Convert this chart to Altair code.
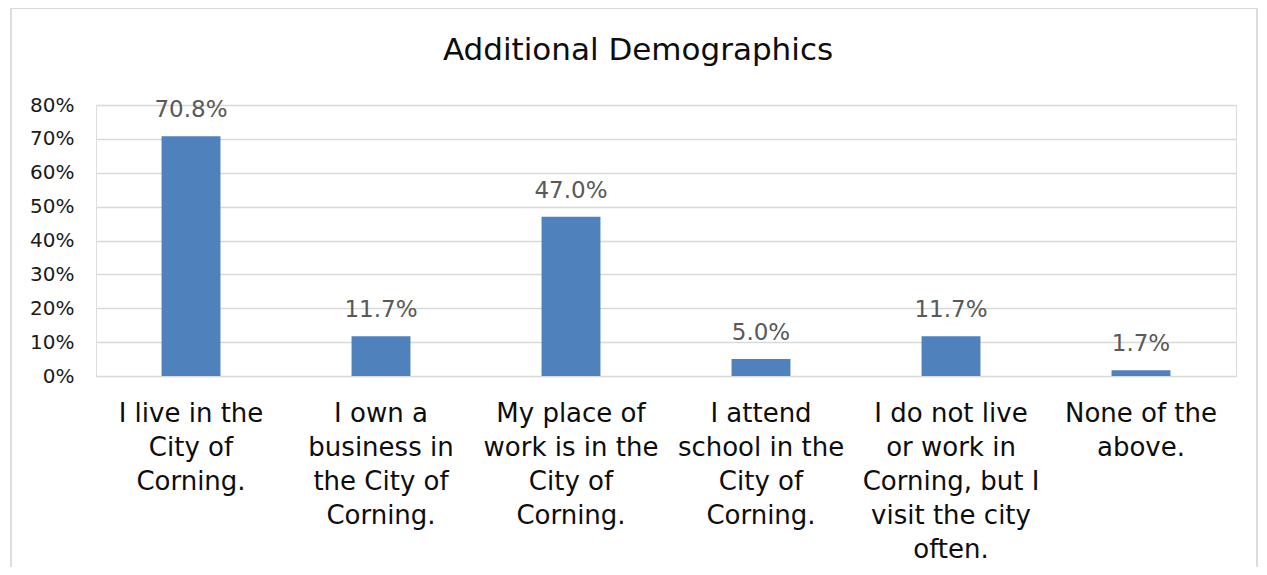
import altair as alt
import pandas as pd

categories = [
    "I live in the\nCity of\nCorning.",
    "I own a\nbusiness in\nthe City of\nCorning.",
    "My place of\nwork is in the\nCity of\nCorning.",
    "I attend\nschool in the\nCity of\nCorning.",
    "I do not live\nor work in\nCorning, but I\nvisit the city\noften.",
    "None of the\nabove.",
]
values = [0.708, 0.117, 0.470, 0.050, 0.117, 0.017]
y_ticks = [0, 0.1, 0.2, 0.3, 0.4, 0.5, 0.6, 0.7, 0.8]

df = pd.DataFrame({"cat": categories, "val": values})
FONT = "DejaVu Sans"

x_enc = alt.X(
    "cat:N",
    sort=categories,
    scale=alt.Scale(paddingInner=0.69, paddingOuter=0.345),
    axis=alt.Axis(
        title=None,
        labelAngle=0,
        labelExpr="split(datum.label, '\\n')",
        labelFontSize=26,
        labelLineHeight=34,
        labelColor="#0D0D0D",
        labelFont=FONT,
        labelPadding=24,
        labelBaseline="top",
        labelOverlap=False,
        labelLimit=300,
        ticks=False,
        domain=False,
    ),
)
y_enc = alt.Y(
    "val:Q",
    scale=alt.Scale(domain=[0, 0.8], nice=False),
    axis=alt.Axis(
        title=None,
        values=y_ticks,
        format=".0%",
        labelFontSize=20,
        labelColor="#1A1A1A",
        labelFont=FONT,
        labelPadding=22,
        labelOverlap=False,
        ticks=False,
        domain=False,
        gridColor="#D9D9D9",
        gridWidth=1.5,
    ),
)

border = alt.Chart(pd.DataFrame({"a": [0]})).mark_rect(
    fill=None, stroke="#D9D9D9", strokeWidth=1.75
).encode(
    x=alt.value(-85), x2=alt.value(1161), y=alt.value(-97), y2=alt.value(620)
)

base = alt.Chart(df).encode(x=x_enc, y=y_enc)
bars = base.mark_bar(color="#4F81BD")
labels = base.mark_text(
    baseline="alphabetic", dy=-19, fontSize=23, color="#595959", font=FONT
).encode(text=alt.Text("val:Q", format=".1%"))

chart = (
    alt.layer(border, bars, labels)
    .properties(
        width=1140,
        height=271,
        autosize=alt.AutoSizeParams(type="none"),
        padding={"left": 88, "top": 97, "right": 23, "bottom": 191},
        title=alt.TitleParams(
            "Additional Demographics",
            fontSize=31,
            font=FONT,
            fontWeight="normal",
            color="#0D0D0D",
            anchor="middle",
            dx=-28,
            offset=-60,
        ),
    )
    .configure_view(stroke="transparent", strokeWidth=0)
    .configure(background="white")
)

chart.save("out.html", embed_options={"renderer": "svg", "actions": False})
